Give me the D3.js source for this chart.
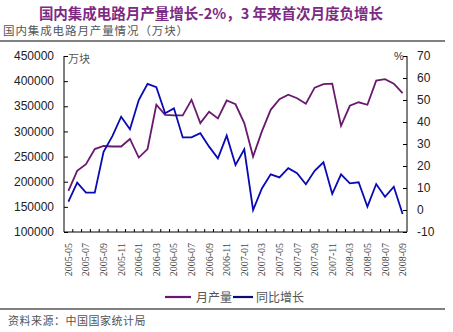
<!DOCTYPE html>
<html><head><meta charset="utf-8">
<script src="https://cdn.jsdelivr.net/npm/d3@7"></script>
<style>body{margin:0;background:#fff;} svg{display:block;}</style>
</head><body>
<svg id="c" width="453" height="332"></svg>
<script>
const categories = ["2005-05","2005-06","2005-07","2005-08","2005-09","2005-10","2005-11","2005-12",
"2006-01","2006-02","2006-03","2006-04","2006-05","2006-06","2006-07","2006-08","2006-09","2006-10","2006-11","2006-12",
"2007-01","2007-02","2007-03","2007-04","2007-05","2007-06","2007-07","2007-08","2007-09","2007-10","2007-11","2007-12",
"2008-03","2008-04","2008-05","2008-06","2008-07","2008-08","2008-09"];
const production = [182000,221500,235000,265000,271000,270000,270000,285000,248000,265000,
353000,333000,332000,332000,363000,316500,339000,326000,361500,354000,
316500,250000,300000,343000,364000,373000,366000,355000,387000,394000,
395000,311000,351000,358000,353000,401000,404000,395000,376000];
const growth = [3.8,12.4,7.9,7.9,26.5,33.6,42.4,36.7,50,57.3,
55.8,44,46.2,33,33,34.9,28.8,23.5,33.8,20.5,
27.6,0,9.8,16.2,14.8,19,16.7,11.7,17.8,21.7,
7.3,16.2,12.1,12.6,1.5,11.8,6,10.6,-1.8];
const leftTicks = [100000,150000,200000,250000,300000,350000,400000,450000];
const rightTicks = [-10,0,10,20,30,40,50,60,70];
const xTickLabels = categories.filter((d,i)=>i%2===0);
const seriesNames = ["月产量","同比增长"];

const svg = d3.select("#c");
const L=64, R=407, T=56, B=232;
const x = d3.scaleBand().domain(categories).range([L,R]).padding(0);
const cx = d => x(d)+x.bandwidth()/2;
const yL = d3.scaleLinear().domain([100000,450000]).range([B,T]);
const yR = d3.scaleLinear().domain([-10,70]).range([B,T]);

// title
svg.append("text").attr("x",211).attr("y",19).attr("text-anchor","middle")
 .attr("font-family","Noto Sans CJK SC").attr("font-weight","bold").attr("font-size",14.5)
 .attr("fill","#7d2a85").text("国内集成电路月产量增长-2%，3 年来首次月度负增长");
svg.append("text").attr("x",3).attr("y",35)
 .attr("font-family","Noto Sans CJK SC").attr("font-size",11.5).attr("fill","#555")
 .attr("letter-spacing",0.9).text("国内集成电路月产量情况（万块）");
svg.append("line").attr("x1",0).attr("x2",445).attr("y1",41).attr("y2",41).attr("stroke","#000").attr("stroke-width",1);

// axes
const gL = svg.append("g").attr("transform",`translate(${L},0)`)
 .call(d3.axisRight(yL).tickValues(leftTicks).tickSize(4).tickFormat(""));
gL.select(".domain").attr("d",`M0,${T}V${B}`);
leftTicks.forEach(v=>{
  svg.append("text").attr("x",54).attr("y",yL(v)).attr("dy","0.35em").attr("text-anchor","end")
   .attr("font-family","Liberation Sans, Arial").attr("font-size",12).attr("fill","#222").text(v);
});
const gR = svg.append("g").attr("transform",`translate(${R},0)`)
 .call(d3.axisLeft(yR).tickValues(rightTicks).tickSize(4).tickFormat(""));
gR.select(".domain").attr("d",`M0,${T}V${B}`);
rightTicks.forEach(v=>{
  svg.append("text").attr("x",417).attr("y",yR(v)).attr("dy","0.35em").attr("text-anchor","start")
   .attr("font-family","Liberation Sans, Arial").attr("font-size",12).attr("fill","#222").text(v);
});
svg.append("line").attr("x1",L).attr("x2",R).attr("y1",B).attr("y2",B).attr("stroke","#000");
categories.forEach((c,i)=>{
  if(i>0) svg.append("line").attr("x1",x(c)).attr("x2",x(c)).attr("y1",B).attr("y2",B-3).attr("stroke","#000");
});
xTickLabels.forEach(c=>{
  svg.append("text").attr("transform",`translate(${cx(c)},243) rotate(-90)`)
   .attr("text-anchor","end").attr("dy","0.35em")
   .attr("font-family","Liberation Serif, serif").attr("font-size",10).attr("fill","#444").text(c);
});
svg.append("text").attr("x",68).attr("y",63).attr("font-family","Noto Sans CJK SC").attr("font-size",11).attr("fill","#555").text("万块");
svg.append("text").attr("x",394).attr("y",60).attr("font-family","Liberation Sans, Arial").attr("font-size",11).attr("fill","#333").text("%");

// lines
const lineL = d3.line().x((d,i)=>cx(categories[i])).y(d=>yL(d));
const lineR = d3.line().x((d,i)=>cx(categories[i])).y(d=>yR(d));
svg.append("path").datum(production).attr("d",lineL).attr("fill","none").attr("stroke","#6a1a6e").attr("stroke-width",1.8);
svg.append("path").datum(growth).attr("d",lineR).attr("fill","none").attr("stroke","#0a0ab4").attr("stroke-width",1.8);

// legend
svg.append("line").attr("x1",165).attr("x2",191).attr("y1",297).attr("y2",297).attr("stroke","#6a1a6e").attr("stroke-width",2.2);
svg.append("text").attr("x",196).attr("y",301.5).attr("font-family","Noto Sans CJK SC").attr("font-size",12).attr("fill","#555").text(seriesNames[0]);
svg.append("line").attr("x1",233).attr("x2",253).attr("y1",297).attr("y2",297).attr("stroke","#0a0a80").attr("stroke-width",2.2);
svg.append("text").attr("x",256).attr("y",301.5).attr("font-family","Noto Sans CJK SC").attr("font-size",12).attr("fill","#555").text(seriesNames[1]);

svg.append("line").attr("x1",0).attr("x2",445).attr("y1",309).attr("y2",309).attr("stroke","#000");
svg.append("text").attr("x",8).attr("y",325).attr("font-family","Noto Sans CJK SC").attr("font-size",11).attr("fill","#555")
 .attr("letter-spacing",0.5).text("资料来源：中国国家统计局");
</script>
</body></html>
